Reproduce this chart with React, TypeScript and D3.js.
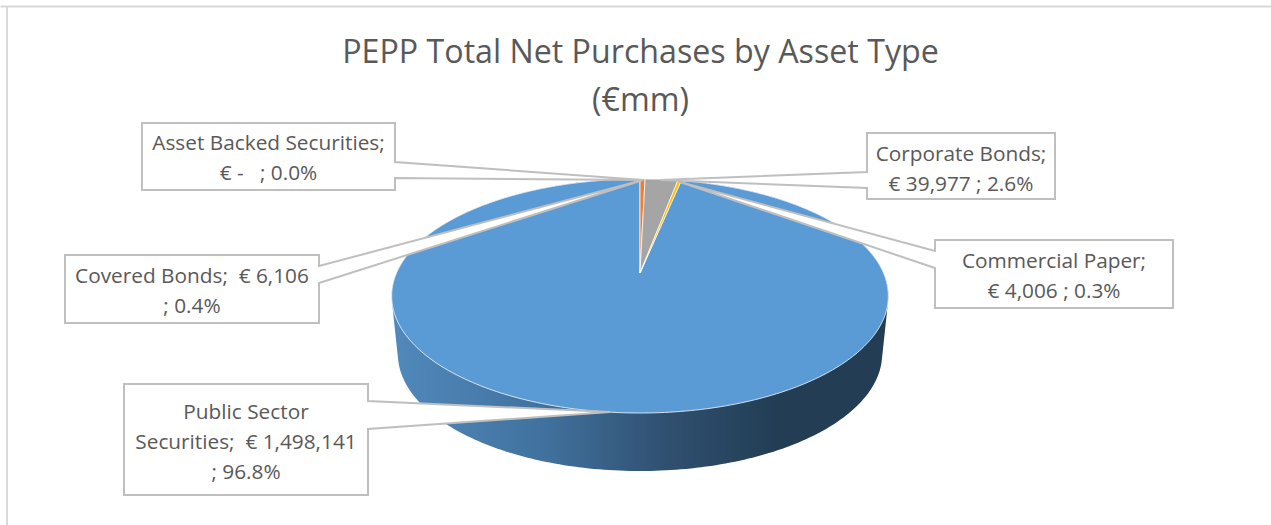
import React from "react";
import * as d3 from "d3";

const categories = ["Public Sector Securities", "Covered Bonds", "Asset Backed Securities", "Corporate Bonds", "Commercial Paper"];
const values = [1498141, 6106, 0, 39977, 4006];
const colors = ["#5B9BD5", "#ED7D31", "#A5A5A5", "#A5A5A5", "#FFC000"];
const titleLines = ["PEPP Total Net Purchases by Asset Type", "(€mm)"];
const labelLines = [
  ["Public Sector", "Securities;  € 1,498,141", "; 96.8%"],
  ["Covered Bonds;  € 6,106", "; 0.4%"],
  ["Asset Backed Securities;", "€ -   ; 0.0%"],
  ["Corporate Bonds;", "€ 39,977 ; 2.6%"],
  ["Commercial Paper;", "€ 4,006 ; 0.3%"],
];

// callout boxes: box edges, tail start/end along the box side, tail tip
const callouts = [
  { x0: 124, x1: 368, y0: 384, y1: 495, side: "right", t0: 401, t1: 429, tip: [610, 412], lineY: 419 },
  { x0: 65, x1: 319, y0: 255, y1: 323, side: "right", t0: 266, t1: 283, tip: [643, 180], lineY: 283 },
  { x0: 142, x1: 395, y0: 123, y1: 190, side: "right", t0: 162, t1: 178, tip: [643, 180], lineY: 150 },
  { x0: 867, x1: 1055, y0: 133, y1: 199, side: "left", t0: 172, t1: 188, tip: [660, 180], lineY: 161 },
  { x0: 935, x1: 1173, y0: 240, y1: 308, side: "left", t0: 251, t1: 268, tip: [680, 182], lineY: 268 },
];

const width = 1271;
const height = 525;
const font = "'Open Sans', sans-serif";
const textColor = "#595959";
const lineColor = "#BFBFBF";

// perspective squeeze of the pie disc
const k = 0.1966;
const cx = 640;
const cy = 273;
const depth = 58;

const xScale = d3.scaleLinear().domain([-1, 1]).range([cx - 243.5, cx + 243.5]);
const yScale = d3.scaleLinear().domain([-1, 1]).range([cy + 112.5, cy - 112.5]);

function project(angle: number, shrink = 1, drop = 0): [number, number] {
  const u = Math.sin(angle);
  const v = Math.cos(angle);
  const w = 1 + k * v;
  const px = cx + (xScale(u / w) - cx) * shrink;
  return [px, yScale(v / w) + drop];
}

function rim(a0: number, a1: number, shrink = 1, drop = 0): [number, number][] {
  const n = Math.max(2, Math.ceil(((a1 - a0) / (2 * Math.PI)) * 360));
  return d3.range(n + 1).map((i) => project(a0 + ((a1 - a0) * i) / n, shrink, drop));
}

function calloutPath(c: (typeof callouts)[number]) {
  const pts: [number, number][] =
    c.side === "right"
      ? [[c.x0, c.y0], [c.x1, c.y0], [c.x1, c.t0], c.tip as [number, number], [c.x1, c.t1], [c.x1, c.y1], [c.x0, c.y1]]
      : [[c.x0, c.y0], [c.x1, c.y0], [c.x1, c.y1], [c.x0, c.y1], [c.x0, c.t1], c.tip as [number, number], [c.x0, c.t0]];
  return d3.line()(pts) + "Z";
}

export default function App() {
  const share = values[0] / d3.sum(values);
  const start = -share * 2 * Math.PI;
  const slices = d3
    .pie<number>()
    .sort(null)
    .startAngle(start)
    .endAngle(start + 2 * Math.PI)(values);

  const line = d3.line();
  const wallPts = d3.polygonHull([
    ...rim(0, 2 * Math.PI),
    ...rim(0, 2 * Math.PI, 0.975, depth),
  ]) as [number, number][];

  return (
    <svg
      width={width}
      height={height}
      style={{ position: "absolute", left: 0, top: 0, background: "#fff" }}
    >
      <defs>
        <linearGradient id="wall" gradientUnits="userSpaceOnUse" x1={392} x2={889} y1={0} y2={0}>
          <stop offset="0" stopColor="#5189BC" />
          <stop offset="0.3" stopColor="#41729F" />
          <stop offset="0.55" stopColor="#305071" />
          <stop offset="0.78" stopColor="#223D54" />
          <stop offset="1" stopColor="#223D54" />
        </linearGradient>
      </defs>

      <path d={`M0.5 6.5H${width}`} stroke="#D9D9D9" strokeWidth={2} fill="none" />
      <path d="M7 6V525" stroke="#D9D9D9" strokeWidth={2} fill="none" />

      {titleLines.map((t, i) => (
        <text key={t} x={640.5} y={63 + i * 48} textAnchor="middle" fontFamily={font} fontSize={32.2} fill={textColor}>
          {t}
        </text>
      ))}

      <path d={line(wallPts) + "Z"} fill="url(#wall)" />

      {slices.map((s, i) =>
        s.endAngle > s.startAngle ? (
          <path
            key={categories[i]}
            d={line([[cx, cy], ...rim(s.startAngle, s.endAngle)]) + "Z"}
            fill={colors[i]}
            stroke="#fff"
            strokeOpacity={0.85}
            strokeWidth={0.9}
            strokeLinejoin="round"
          />
        ) : null
      )}

      {callouts.map((c, i) => (
        <g key={categories[i]}>
          <path d={calloutPath(c)} fill="#fff" stroke={lineColor} strokeWidth={2} />
          {labelLines[i].map((t, j) => (
            <text
              key={j}
              x={(c.x0 + c.x1) / 2}
              y={c.lineY + j * 30}
              textAnchor="middle"
              fontFamily={font}
              fontSize={20.8}
              fill={textColor}
              style={{ whiteSpace: "pre" }}
            >
              {t}
            </text>
          ))}
        </g>
      ))}
    </svg>
  );
}
